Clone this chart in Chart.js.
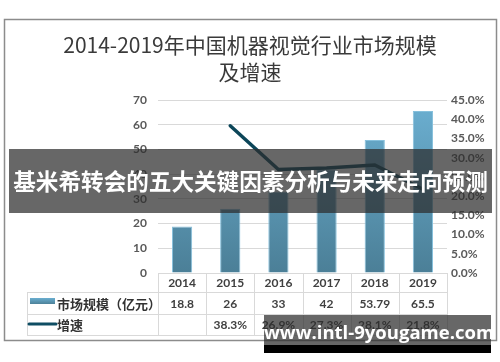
<!DOCTYPE html>
<html><head><meta charset="utf-8">
<script src="https://cdn.jsdelivr.net/npm/chart.js@4/dist/chart.umd.min.js"></script>
<style>
html,body{margin:0;padding:0;background:#fff;}
#wrap{position:relative;width:500px;height:362px;overflow:hidden;}
canvas{position:absolute;left:0;top:0;}
.banner{position:absolute;background:rgba(45,45,45,0.72);color:#fff;font-weight:bold;text-align:center;white-space:nowrap;overflow:hidden;}
#b1{left:9px;top:149px;width:483px;height:64px;line-height:64px;font-family:"Noto Sans CJK SC",sans-serif;font-size:22.6px;letter-spacing:0px;}
#b2{left:264px;top:315px;width:227px;height:30px;line-height:34px;font-family:"Open Sans",sans-serif;font-size:18.5px;}
#b3{position:absolute;left:264px;top:345px;width:227px;height:8px;background:#000;}
</style></head>
<body><div id="wrap">
<canvas id="c" width="500" height="362"></canvas>
<div class="banner" id="b1">基米希转会的五大关键因素分析与未来走向预测</div>
<div class="banner" id="b2">www.intl-9yougame.com</div>
<div id="b3"></div>
</div>
<script>
const titleLines = ['2014-2019年中国机器视觉行业市场规模', '及增速'];
const categories = ['2014', '2015', '2016', '2017', '2018', '2019'];
const marketSize = [18.8, 26, 33, 42, 53.79, 65.5];
const growthRate = [null, 0.383, 0.269, 0.273, 0.281, 0.218];
const marketLabels = ['18.8', '26', '33', '42', '53.79', '65.5'];
const growthLabels = ['', '38.3%', '26.9%', '27.3%', '28.1%', '21.8%'];
const seriesNames = ['市场规模（亿元）', '增速'];

const numFont = 'bold 12px Lato, "Liberation Sans", sans-serif';
const cjkFont = 'bold 13px "Noto Sans CJK SC", sans-serif';

const tablePlugin = {
  id: 'tablePlugin',
  beforeDraw(chart) {
    const c = chart.ctx;
    c.save();
    c.fillStyle = '#fff';
    c.fillRect(0, 0, chart.width, chart.height);
    c.strokeStyle = '#8c8c8c';
    c.lineWidth = 1.5;
    c.strokeRect(4.5, 19.5, 492, 321);
    c.fillStyle = '#3a3a3a';
    c.font = '21px "Noto Sans CJK SC", sans-serif';
    c.textAlign = 'center';
    c.textBaseline = 'middle';
    c.fillText(titleLines[0], 250, 45);
    c.fillText(titleLines[1], 250, 72);
    c.restore();
  },
  afterDraw(chart) {
    const c = chart.ctx;
    const x = chart.scales.x;
    const area = chart.chartArea;
    const n = categories.length;
    const cw = (area.right - area.left) / n;
    const yTop = area.bottom, y1 = 292, y2 = 314, y3 = 335, tLeft = 27;
    c.save();
    c.strokeStyle = '#d9d9d9';
    c.lineWidth = 1;
    const hl = (xa, xb, y) => { c.beginPath(); c.moveTo(xa, y + 0.5); c.lineTo(xb, y + 0.5); c.stroke(); };
    const vl = (xx, ya, yb) => { c.beginPath(); c.moveTo(Math.round(xx) + 0.5, ya); c.lineTo(Math.round(xx) + 0.5, yb); c.stroke(); };
    hl(area.left, area.right, yTop);
    hl(tLeft, area.right, y1);
    hl(tLeft, area.right, y2);
    hl(tLeft, area.right, y3);
    vl(tLeft, y1, y3 + 1);
    for (let i = 0; i <= n; i++) {
      const bx = i < n ? x.getPixelForValue(i) - cw / 2 : x.getPixelForValue(n - 1) + cw / 2;
      vl(bx, yTop, y3 + 1);
    }
    c.textAlign = 'center';
    c.textBaseline = 'middle';
    c.fillStyle = '#404040';
    c.font = numFont;
    for (let i = 0; i < n; i++) {
      const cx = x.getPixelForValue(i);
      c.fillText(categories[i], cx, (yTop + y1) / 2 + 1);
      c.fillText(marketLabels[i], cx, (y1 + y2) / 2 + 1);
      c.fillText(growthLabels[i], cx, (y2 + y3) / 2 + 1);
    }
    const g = c.createLinearGradient(0, 298, 0, 304);
    g.addColorStop(0, '#6aaed0');
    g.addColorStop(1, '#4d8199');
    c.fillStyle = g;
    c.fillRect(30, 298, 25, 6);
    c.strokeStyle = '#0e4d63';
    c.lineWidth = 3;
    c.lineCap = 'round';
    c.beginPath(); c.moveTo(29, 324); c.lineTo(56, 324); c.stroke();
    c.textAlign = 'left';
    c.fillStyle = '#333';
    c.font = cjkFont;
    c.fillText(seriesNames[0], 57, (y1 + y2) / 2 + 1);
    c.fillText(seriesNames[1], 57, (y2 + y3) / 2 + 1);
    c.restore();
  }
};

function barGradient(ctx) {
  const chart = ctx.chart;
  const a = chart.chartArea;
  if (!a) return '#5b9bbd';
  const g = chart.ctx.createLinearGradient(0, a.top, 0, a.bottom);
  g.addColorStop(0, '#6cb0d2');
  g.addColorStop(1, '#4b7f97');
  return g;
}

new Chart(document.getElementById('c'), {
  data: {
    labels: categories,
    datasets: [
      {
        type: 'line', label: seriesNames[1], data: growthRate, yAxisID: 'y1',
        borderColor: '#0c4659', borderWidth: 3.5, pointRadius: 0, tension: 0,
        fill: false, spanGaps: false, order: 0, borderCapStyle: 'round'
      },
      {
        type: 'bar', label: seriesNames[0], data: marketSize, yAxisID: 'y',
        backgroundColor: barGradient, borderColor: '#86c0dc', borderWidth: 1,
        barPercentage: 0.42, categoryPercentage: 1, order: 1
      }
    ]
  },
  options: {
    responsive: false, animation: false, devicePixelRatio: 1,
    layout: { padding: { left: 0, right: 0, top: 100, bottom: 89 } },
    plugins: { legend: { display: false }, tooltip: { enabled: false }, title: { display: false } },
    scales: {
      x: {
        ticks: { display: false }, grid: { display: false }, border: { display: false },
        afterFit(s) { s.height = 0; }
      },
      y: {
        position: 'left', min: 0, max: 70,
        ticks: { stepSize: 10, padding: 11, color: '#595959', font: { family: 'Lato, "Liberation Sans", sans-serif', size: 12, weight: 'bold' } },
        grid: { color: '#d9d9d9', drawTicks: false },
        border: { display: false },
        afterFit(s) { s.width = 158; }
      },
      y1: {
        position: 'right', min: 0, max: 0.45,
        ticks: { stepSize: 0.05, padding: 4, color: '#595959',
          font: { family: 'Lato, "Liberation Sans", sans-serif', size: 12, weight: 'bold' },
          callback: v => (v * 100).toFixed(1) + '%' },
        grid: { display: false, drawTicks: false },
        border: { display: false },
        afterFit(s) { s.width = 53; }
      }
    }
  },
  plugins: [tablePlugin]
});
</script>
</body></html>
